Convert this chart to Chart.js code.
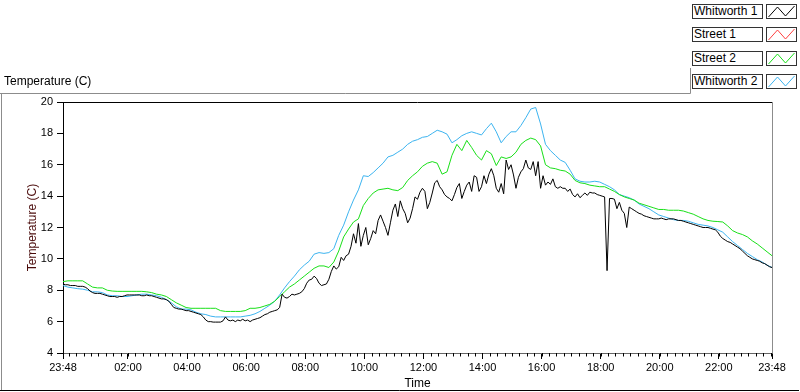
<!DOCTYPE html>
<html>
<head>
<meta charset="utf-8">
<script src="https://cdn.jsdelivr.net/npm/chart.js@4.4.1/dist/chart.umd.min.js"></script>
<style>
  html, body { margin:0; padding:0; background:#fff; }
  #wrap { position:relative; width:800px; height:392px; overflow:hidden; font-family:'Liberation Sans', Arial, sans-serif; }
  #chart { position:absolute; left:0; top:0; }
  .plotTitle { position:absolute; left:4px; top:74px; font-size:12px; color:#000; }
  .leg { position:absolute; left:692px; width:100px; height:15px; }
  .leg .name { position:absolute; left:0; top:0; width:68px; height:13px; border:1px solid #333; font-size:12px; line-height:13px; padding-left:1px; color:#000; background:#fff; }
  .leg svg { position:absolute; left:74px; top:0; }
</style>
</head>
<body>
<div id="wrap">
  <canvas id="chart" width="800" height="392"></canvas>
  <div class="plotTitle">Temperature (C)</div>
  <div id="legend"></div>
</div>
<script>
// ===== data =====
const startLabel = '23:48';
const seriesNames = ['Whitworth 1', 'Street 1', 'Street 2', 'Whitworth 2'];
const seriesColors = ['#000000', '#ff4040', '#18e018', '#3cb4f0'];
const xTickLabels = ['23:48','02:00','04:00','06:00','08:00','10:00','12:00','14:00','16:00','18:00','20:00','22:00','23:48'];
const yTicks = [4, 6, 8, 10, 12, 14, 16, 18, 20];

// Whitworth 1, one value every 5 min from 23:48 (one row = one hour)
const w1StepMin = 5;
const w1Temps = [
  8.4, 8.35, 8.35, 8.3, 8.3, 8.3, 8.25, 8.25, 8.25, 8.2, 8.1, 7.95,
  7.85, 7.8, 7.8, 7.8, 7.75, 7.7, 7.65, 7.6, 7.6, 7.6, 7.55, 7.6,
  7.6, 7.65, 7.7, 7.7, 7.7, 7.7, 7.7, 7.7, 7.65, 7.65, 7.7, 7.65,
  7.65, 7.6, 7.55, 7.5, 7.45, 7.45, 7.4, 7.3, 7.1, 6.9, 6.85, 6.8,
  6.8, 6.75, 6.7, 6.7, 6.65, 6.6, 6.55, 6.5, 6.45, 6.3, 6.1, 6.0,
  6.0, 5.97, 5.97, 5.97, 5.97, 6.05, 6.3, 6.1, 6.05, 6.1, 6.0, 6.1,
  6.05, 6.15, 6.05, 6.1, 6.0, 6.1, 6.15, 6.2, 6.25, 6.35, 6.45, 6.5,
  6.6, 6.65, 6.7, 6.75, 6.9, 7.75, 7.55, 7.5, 7.6, 7.75, 7.7, 7.75,
  7.8, 7.9, 8.1, 8.45, 8.65, 8.7, 8.9, 8.75, 8.45, 8.3, 8.35, 8.4,
  8.7, 9.2, 9.55, 9.35, 9.5, 10.1, 9.9, 10.2, 10.3, 10.8, 11.6, 11.0,
  12.25, 10.8, 11.5, 12.0, 10.9, 11.3, 11.8, 11.6, 12.45, 12.8, 12.4, 12.0,
  11.5, 12.3, 13.1, 13.5, 12.7, 13.7, 13.2, 12.9, 12.3, 12.6, 13.2, 13.95,
  13.8, 14.25, 14.5, 14.3, 13.2, 13.6, 14.2, 14.85, 15.0, 14.6, 14.4, 14.1,
  13.95, 13.85, 13.7, 14.1, 14.55, 14.8, 13.85, 14.3, 14.7, 14.9, 14.3, 15.3,
  15.2, 14.3, 14.6, 15.3, 14.8, 15.4, 15.75, 15.3, 14.5, 14.25, 14.8, 14.15,
  16.3, 15.7, 16.0, 15.35, 14.5, 15.2, 15.55, 15.75, 16.3, 15.8, 15.7, 16.2,
  15.3, 16.2, 14.5, 15.3, 14.7, 14.9, 14.75, 15.1, 14.6, 14.5, 14.6, 14.5,
  14.5, 14.3, 14.45, 14.1, 13.95, 14.15, 13.9, 14.05, 14.2, 14.05, 14.25, 14.2,
  14.2, 14.1, 14.05, 14.0, 13.95, 9.25, 13.85, 13.85, 13.8, 13.2, 13.6, 13.1,
  12.9, 12.0, 13.3, 13.2, 13.1, 13.0, 12.9, 12.85, 12.75, 12.7, 12.65, 12.6,
  12.55, 12.55, 12.55, 12.6, 12.55, 12.5, 12.55, 12.55, 12.55, 12.5, 12.45, 12.45,
  12.4, 12.35, 12.3, 12.25, 12.2, 12.15, 12.1, 12.05, 12.0, 12.0, 12.0, 11.95,
  11.9, 11.85, 11.7, 11.45, 11.3, 11.2, 11.1, 11.05, 10.95, 10.85, 10.75, 10.65,
  10.5, 10.35, 10.2, 10.1, 10.0, 9.95, 9.9, 9.85, 9.75, 9.7, 9.6, 9.5,
  9.45
];

// Street 1: nothing logged
const s1StepMin = 10;
const s1Temps = [];

// Street 2, one value every 10 min
const s2StepMin = 10;
const s2Temps = [
  8.55, 8.6, 8.6, 8.6, 8.6, 8.4,
  8.2, 8.15, 8.15, 8.0, 7.95, 7.93,
  7.93, 7.93, 7.93, 7.93, 7.93, 7.9,
  7.85, 7.75, 7.7, 7.6, 7.4, 7.2,
  7.05, 6.9, 6.85, 6.85, 6.85, 6.85,
  6.85, 6.85, 6.7, 6.65, 6.65, 6.65,
  6.65, 6.7, 6.85, 6.85, 6.9, 7.0,
  7.1, 7.3, 7.6, 7.9, 8.2, 8.4,
  8.65, 8.9, 9.15, 9.4, 9.55, 9.55,
  9.45, 9.8, 10.5, 11.4, 11.9, 12.35,
  12.55, 13.4, 13.85, 14.2, 14.4, 14.45,
  14.5, 14.4, 14.35, 14.55, 15.0, 15.3,
  15.55, 15.9, 16.1, 16.2, 16.1, 15.4,
  15.55, 16.6, 17.3, 16.9, 17.55, 17.1,
  16.6, 16.3, 16.9, 16.7, 15.95, 16.5,
  16.4, 16.5, 16.8, 17.3, 17.55, 17.7,
  17.6, 17.2, 16.0, 15.8, 15.75, 15.65,
  15.6, 15.4, 15.0, 14.85, 14.8, 14.7,
  14.65, 14.6, 14.6, 14.45, 14.3, 14.1,
  13.95, 13.85, 13.75, 13.55, 13.45, 13.35,
  13.25, 13.15, 13.15, 13.1, 13.1, 13.1,
  13.05, 12.95, 12.85, 12.7, 12.55, 12.45,
  12.4, 12.38, 12.35, 12.1, 11.8, 11.65,
  11.55, 11.4, 11.15, 10.95, 10.7, 10.45,
  10.2
];

// Whitworth 2, one value every 10 min
const w2StepMin = 10;
const w2Temps = [
  8.3, 8.2, 8.15, 8.1, 8.07, 8.0,
  7.9, 7.9, 7.85, 7.7, 7.65, 7.65,
  7.6, 7.6, 7.65, 7.7, 7.75, 7.75,
  7.7, 7.65, 7.55, 7.4, 7.2, 6.95,
  6.8, 6.8, 6.75, 6.6, 6.5, 6.45,
  6.35, 6.3, 6.3, 6.3, 6.3, 6.3,
  6.3, 6.35, 6.4, 6.5, 6.65, 6.85,
  7.05, 7.3, 7.7, 8.15, 8.55, 8.9,
  9.3, 9.6, 9.85, 10.3, 10.4, 10.35,
  10.4, 10.65, 11.5, 12.15, 13.0, 13.75,
  14.4, 15.3, 15.25, 15.5, 15.8, 16.1,
  16.5, 16.6, 16.8, 17.0, 17.3, 17.5,
  17.6, 17.75, 17.8, 18.0, 18.2, 18.1,
  17.95, 17.4, 17.6, 17.85, 18.0, 18.1,
  18.0, 17.9, 18.3, 18.65, 18.1, 17.4,
  17.8, 18.1, 18.1, 18.5, 19.0, 19.55,
  19.65, 18.6, 17.3, 16.9, 16.6, 16.3,
  16.15, 15.65, 15.1, 14.95, 14.9, 14.9,
  14.95, 14.9, 14.75, 14.6, 14.4, 14.1,
  14.0, 13.9, 13.75, 13.5, 13.35, 13.2,
  13.0, 12.8, 12.7, 12.6, 12.5, 12.45,
  12.45, 12.4, 12.3, 12.2, 12.15, 12.1,
  12.0, 11.85, 11.7, 11.4, 11.1, 10.85,
  10.6, 10.35, 10.15, 9.95, 9.8, 9.6,
  9.45
];

// ===== helpers =====
const toMin = s => { const [h, m] = s.split(':').map(Number); return h * 60 + m; };
const startMin = toMin(startLabel);
const minFromStart = (s, i) => (i === xTickLabels.length - 1) ? 1440 : (toMin(s) - startMin + 1440) % 1440;
const xTickValues = xTickLabels.map(minFromStart);
const toPoints = (temps, step) => temps.map((t, i) => ({ x: i * step, y: t }));
const minorTicks = [];
for (let m = (1440 - startMin) % 15; m < 1440; m += 15) minorTicks.push(m);

// ===== legend (html) =====
const legendEl = document.getElementById('legend');
seriesNames.forEach((name, i) => {
  const d = document.createElement('div');
  d.className = 'leg';
  d.style.top = (4 + i * 23.33) + 'px';
  d.innerHTML = `<div class="name">${name}</div>
    <svg width="31" height="15" viewBox="0 0 31 15"><rect x="0.5" y="0.5" width="30" height="14" fill="#fff" stroke="#333"/>
    <polyline points="2.5,13 11.5,3 19.5,12 28.5,2" fill="none" stroke="${seriesColors[i]}" stroke-width="1"/></svg>`;
  legendEl.appendChild(d);
});

// ===== frame + minor ticks =====
const framePlugin = {
  id: 'frame',
  beforeDraw(chart) {
    const c = chart.ctx;
    c.save();
    c.fillStyle = '#fff'; c.fillRect(0, 0, chart.width, chart.height);
    c.lineWidth = 1;
    c.strokeStyle = '#8c8c8c';
    c.beginPath();
    c.moveTo(0, 93.5); c.lineTo(690.5, 93.5); c.lineTo(690.5, 68);
    c.moveTo(1.5, 93.5); c.lineTo(1.5, 390);
    c.stroke();
    c.strokeStyle = '#000';
    c.beginPath(); c.moveTo(0, 390.5); c.lineTo(799, 390.5); c.stroke();
    c.restore();
  },
  afterDraw(chart) {
    const c = chart.ctx, a = chart.chartArea, xs = chart.scales.x;
    c.save();
    c.lineWidth = 1;
    c.strokeStyle = '#000';
    c.beginPath(); c.moveTo(a.left, a.top + 0.5); c.lineTo(a.right, a.top + 0.5); c.stroke();
    c.strokeStyle = '#8c8c8c';
    c.beginPath(); c.moveTo(a.right + 0.5, a.top); c.lineTo(a.right + 0.5, a.bottom); c.stroke();
    c.strokeStyle = '#000';
    c.beginPath();
    minorTicks.forEach(m => {
      const px = Math.round(xs.getPixelForValue(m)) + 0.5;
      c.moveTo(px, a.bottom); c.lineTo(px, a.bottom + 3.5);
    });
    c.stroke();
    c.restore();
  }
};

Chart.defaults.font.family = "'Liberation Sans', Arial, sans-serif";
Chart.defaults.font.size = 12;
Chart.defaults.color = '#000';

const datasets = [
  [w1Temps, w1StepMin], [s1Temps, s1StepMin], [s2Temps, s2StepMin], [w2Temps, w2StepMin]
].map(([temps, step], i) => ({
  label: seriesNames[i], data: toPoints(temps, step),
  borderColor: seriesColors[i], borderWidth: 1, pointRadius: 0, tension: 0, fill: false
}));

new Chart(document.getElementById('chart'), {
  type: 'line',
  data: { datasets },
  options: {
    responsive: false, animation: false, events: [],
    layout: { padding: { top: 102, right: 28, left: 0, bottom: 0 } },
    plugins: { legend: { display: false }, tooltip: { enabled: false } },
    scales: {
      x: {
        type: 'linear', min: 0, max: 1440,
        afterBuildTicks: s => { s.ticks = xTickValues.map(v => ({ value: v })); },
        afterFit: s => { s.height = 39; },
        ticks: { autoSkip: false, maxRotation: 0, padding: 2, font: { size: 11 },
                 callback: (v, i) => xTickLabels[i] },
        grid: { drawOnChartArea: false, drawTicks: true, tickLength: 6, tickColor: '#000' },
        border: { color: '#666', width: 1 },
        title: { display: true, text: 'Time', font: { size: 12 }, padding: { top: 0, bottom: 1 } }
      },
      y: {
        min: 4, max: 20,
        afterBuildTicks: s => { s.ticks = yTicks.map(v => ({ value: v })); },
        afterFit: s => { s.width = 63; },
        ticks: { padding: 4, font: { size: 11 } },
        grid: { drawOnChartArea: false, drawTicks: true, tickLength: 6, tickColor: '#000' },
        border: { color: '#000', width: 1 },
        title: { display: true, text: 'Temperature (C)', color: '#4a0b0b', font: { size: 12 }, padding: { top: 25, bottom: 0 } }
      }
    }
  },
  plugins: [framePlugin]
});
</script>
</body>
</html>
